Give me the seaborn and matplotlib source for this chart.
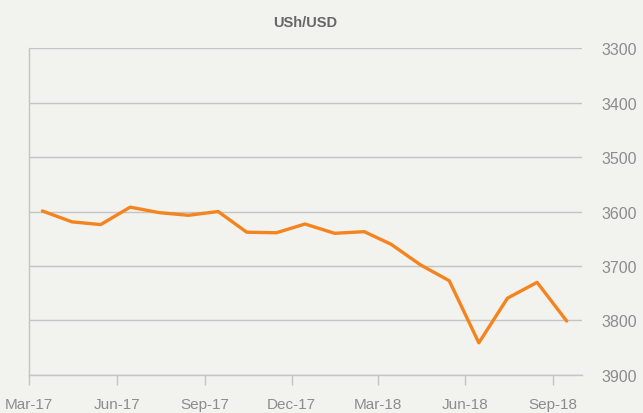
import matplotlib
matplotlib.use("Agg")
import matplotlib.pyplot as plt
import matplotlib.dates as mdates
import seaborn as sns
import pandas as pd

# monthly UGX per USD, Mar-17 .. Sep-18
months = pd.date_range("2017-03-01", "2018-09-01", freq="MS") + pd.Timedelta(days=14)
rate = [3599, 3619, 3624, 3592, 3602, 3607, 3600, 3638, 3639, 3623,
        3640, 3637, 3660, 3698, 3727, 3841, 3759, 3730, 3801]
tick_dates = pd.date_range("2017-03-01", "2018-09-01", freq="3MS")
y_ticks = [3300, 3400, 3500, 3600, 3700, 3800, 3900]

df = pd.DataFrame({"month": months, "rate": rate})

bg = "#f2f2ee"
grey = "#8c8c8c"
sns.set_style("white")
plt.rcParams["font.family"] = ["Liberation Sans", "DejaVu Sans"]

fig = plt.figure(figsize=(6.43, 4.14), dpi=100, facecolor=bg)
ax = fig.add_axes([0.0451, 0.0918, 0.8600, 0.7898])
ax.set_facecolor(bg)

sns.lineplot(data=df, x="month", y="rate", ax=ax, color="#f5841f", linewidth=2.4)

ax.set_xlim(pd.Timestamp("2017-03-01"), pd.Timestamp("2018-10-01"))
ax.set_ylim(3900, 3300)
ax.set_yticks(y_ticks)
ax.set_xticks(tick_dates)
ax.xaxis.set_major_formatter(mdates.DateFormatter("%b-%y"))

ax.yaxis.tick_right()
ax.grid(axis="y", color="#c4c4c4", linewidth=1)
ax.grid(axis="x", visible=False)
for s in ["top", "right"]:
    ax.spines[s].set_visible(False)
for s in ["left", "bottom"]:
    ax.spines[s].set_color("#c4c4c4")
    ax.spines[s].set_linewidth(1)

ax.tick_params(axis="y", length=0, pad=14, labelsize=11.5, labelcolor=grey)
ax.tick_params(axis="x", bottom=True, length=7, width=1, color="#c4c4c4", pad=9,
               labelsize=11, labelcolor=grey, direction="out")
ax.set_xlabel("")
ax.set_ylabel("")

ax.set_title("USh/USD", fontsize=10.5, fontweight="bold", color="#666666", pad=16,
             family=["Liberation Sans Narrow", "Liberation Sans", "DejaVu Sans"])

fig.savefig("out.png", dpi=100, facecolor=bg)
